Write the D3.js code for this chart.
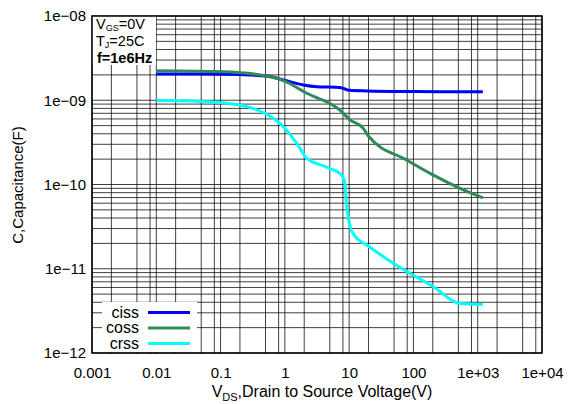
<!doctype html>
<html>
  <head>
    <script src="https://cdnjs.cloudflare.com/ajax/libs/d3/7.8.5/d3.min.js" type="text/JavaScript"></script>
    <style>
      body { margin: 0; background: #fff; }
      text { font-family: "Liberation Sans", Arial, Helvetica, sans-serif; }
    </style>
  </head>
  <body>
    <svg width="571" height="404"></svg>
    <script>
        // values (V, F)
        var xTicks = [1e-3, 1e-2, 1e-1, 1, 10, 100, 1e3, 1e4];
        var xTickLabels = ["0.001", "0.01", "0.1", "1", "10", "100", "1e+03", "1e+04"];
        var yTicks = [1e-12, 1e-11, 1e-10, 1e-9, 1e-8];
        var yTickLabels = ["1e\u221212", "1e\u221211", "1e\u221210", "1e\u221209", "1e\u221208"];
        var xMinorSteps = [2, 5, 8];

        var seriesNames = ["ciss", "coss", "crss"];
        var seriesColors = ["#0000ff", "#2e8b57", "#00ffff"];

        var ciss = [[0.01, 2.05e-9], [0.1, 2.04e-9], [0.52, 1.94e-9], [0.95, 1.74e-9], [1.94, 1.52e-9],
                    [3.1, 1.45e-9], [7.2, 1.42e-9], [10.1, 1.31e-9], [18.8, 1.29e-9], [100, 1.27e-9], [1200, 1.26e-9]];
        var coss = [[0.01, 2.24e-9], [0.11, 2.18e-9], [0.52, 1.94e-9], [0.95, 1.71e-9], [2.2, 1.21e-9],
                    [7.2, 7.65e-10], [10.4, 5.82e-10], [16.6, 4.64e-10], [19.9, 3.76e-10], [78.6, 1.95e-10],
                    [204, 1.29e-10], [531, 9.0e-11], [1200, 6.95e-11]];
        var crss = [[0.01, 1.0e-9], [0.061, 9.6e-10], [0.2, 8.77e-10], [0.66, 6.1e-10], [0.95, 4.85e-10],
                    [1.53, 3.08e-10], [2.2, 2.04e-10], [5.05, 1.55e-10], [7.7, 1.29e-10], [8.6, 1.03e-10],
                    [9.0, 6.5e-11], [10.4, 3.15e-11], [12.5, 2.4e-11], [18.8, 1.91e-11], [48.6, 1.16e-11],
                    [204, 6.1e-12], [531, 3.87e-12], [1200, 3.77e-12]];
        var series = [ciss, coss, crss];

        var svg = d3.select("svg");

        var xScale = d3.scaleLog().domain([1e-3, 1e4]).range([92, 542]);
        var yScale = d3.scaleLog().domain([1e-12, 1e-8]).range([353, 16]);

        // grid lines
        var xGrid = [];
        for (var p = -3; p < 4; p++) {
            xGrid.push(Math.pow(10, p));
            xMinorSteps.forEach(k => xGrid.push(k * Math.pow(10, p)));
        }
        xGrid.push(1e4);
        var yGrid = [];
        for (var q = -12; q < -8; q++) {
            for (var k = 1; k < 10; k++) yGrid.push(k * Math.pow(10, q));
        }
        yGrid.push(1e-8);

        var grid = svg.append("g").attr("stroke", "#000").attr("stroke-width", 1);
        grid.selectAll("line.v").data(xGrid).enter().append("line")
            .attr("x1", d => xScale(d)).attr("x2", d => xScale(d))
            .attr("y1", yScale.range()[0]).attr("y2", yScale.range()[1])
            .attr("stroke-opacity", 0.75);
        grid.selectAll("line.h").data(yGrid).enter().append("line")
            .attr("y1", d => yScale(d)).attr("y2", d => yScale(d))
            .attr("x1", xScale.range()[0]).attr("x2", xScale.range()[1])
            .attr("stroke-opacity", 0.75);

        // axes labels
        var xAxis = d3.axisBottom(xScale).tickValues(xTicks)
            .tickFormat((d, i) => xTickLabels[i]).tickSize(0).tickPadding(14);
        svg.append("g").attr("transform", "translate(0,353)").call(xAxis)
            .call(g => g.select(".domain").remove())
            .selectAll("text").attr("font-size", 15).attr("fill", "#000")
            .style("font-family", "'Liberation Sans', Arial, sans-serif");

        var yAxis = d3.axisLeft(yScale).tickValues(yTicks)
            .tickFormat((d, i) => yTickLabels[i]).tickSize(0).tickPadding(6);
        svg.append("g").attr("transform", "translate(92,0)").call(yAxis)
            .call(g => g.select(".domain").remove())
            .selectAll("text").attr("font-size", 15).attr("fill", "#000")
            .style("font-family", "'Liberation Sans', Arial, sans-serif");

        // curves
        var line = d3.line().x(d => xScale(d[0])).y(d => yScale(d[1])).curve(d3.curveMonotoneX);
        svg.selectAll("path.curve").data(series).enter().append("path")
            .attr("d", d => line(d))
            .attr("fill", "none")
            .attr("stroke", (d, i) => seriesColors[i])
            .attr("stroke-width", 3)
            .attr("stroke-linejoin", "round");

        // conditions box
        svg.append("rect").attr("x", 92).attr("y", 16).attr("width", 64).attr("height", 49).attr("fill", "#fff");
        var cond = svg.append("text").attr("font-size", 14.5).attr("fill", "#000");
        var t1 = cond.append("tspan").attr("x", 96).attr("y", 28.5);
        t1.append("tspan").text("V");
        t1.append("tspan").attr("font-size", 9).attr("dy", 2).text("GS");
        t1.append("tspan").attr("dy", -2).text("=0V");
        var t2 = cond.append("tspan").attr("x", 96).attr("y", 45.5);
        t2.append("tspan").text("T");
        t2.append("tspan").attr("font-size", 9).attr("dy", 2).text("J");
        t2.append("tspan").attr("dy", -2).text("=25C");
        cond.append("tspan").attr("x", 97).attr("y", 62.5).attr("font-weight", "bold").text("f=1e6Hz");

        // legend
        svg.append("rect").attr("x", 102).attr("y", 302).attr("width", 95).attr("height", 50).attr("fill", "#fff");
        var legend = svg.selectAll("g.legend").data(seriesNames).enter().append("g")
            .attr("transform", (d, i) => "translate(0," + (312.5 + i * 15.5) + ")");
        legend.append("text").attr("x", 139).attr("dy", "0.32em").attr("text-anchor", "end")
            .attr("font-size", 16).text(d => d);
        legend.append("line").attr("x1", 148).attr("x2", 190)
            .attr("stroke", (d, i) => seriesColors[i]).attr("stroke-width", 3);

        // frame
        svg.append("rect").attr("x", 92).attr("y", 16).attr("width", 450).attr("height", 337)
            .attr("fill", "none").attr("stroke", "#000").attr("stroke-width", 1.5);

        // axis titles
        var xt = svg.append("text").attr("x", 322).attr("y", 397).attr("text-anchor", "middle").attr("font-size", 16);
        xt.append("tspan").text("V");
        xt.append("tspan").attr("font-size", 11).attr("dy", 4).text("DS");
        xt.append("tspan").attr("dy", -4).text(",Drain to Source Voltage(V)");

        svg.append("text").attr("transform", "translate(23,185) rotate(-90)")
            .attr("text-anchor", "middle").attr("font-size", 15).text("C,Capacitance(F)");
    </script>
  </body>
</html>
